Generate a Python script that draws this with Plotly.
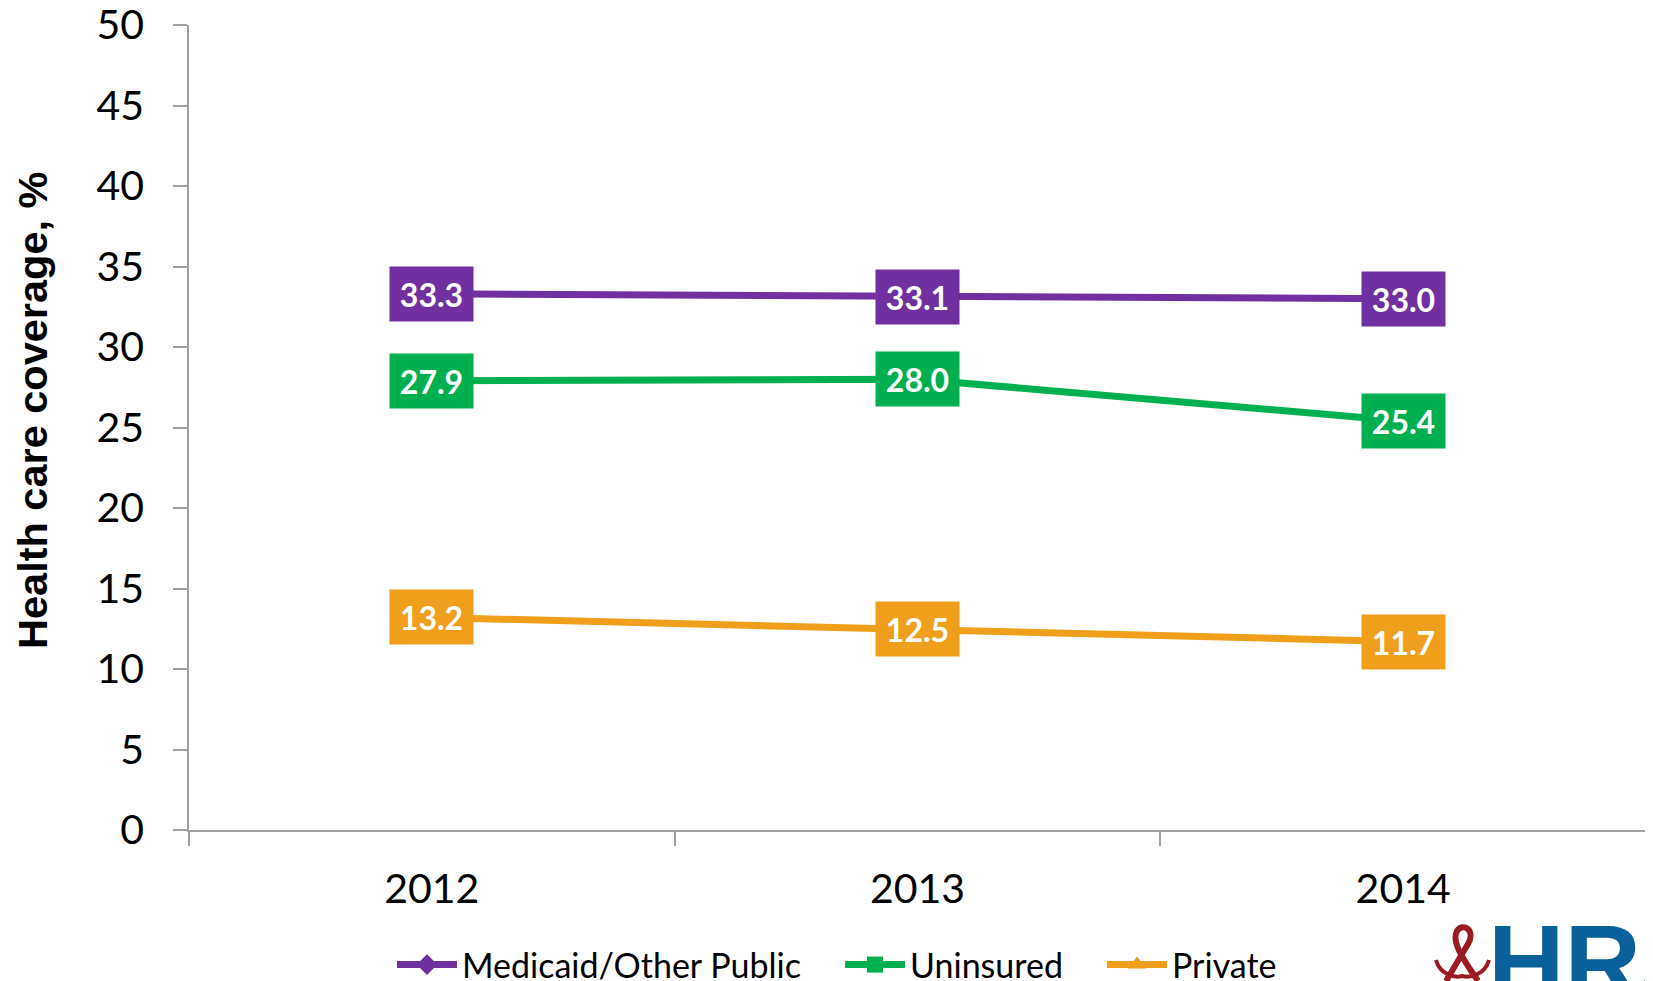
import plotly.graph_objects as go

years = ["2012", "2013", "2014"]
medicaid = [33.3, 33.1, 33.0]
uninsured = [27.9, 28.0, 25.4]
private = [13.2, 12.5, 11.7]

series = [
    ("Medicaid/Other Public", medicaid, "#7030A0", "diamond", "legend"),
    ("Uninsured", uninsured, "#00B050", "square", "legend2"),
    ("Private", private, "#F09F1C", "triangle-up", "legend3"),
]

OFF = 8  # page body margin
W, H = 1653 - OFF, 981 - OFF
# plot area in page pixels: x 189..1646, y 25..830
L, T = 189 - OFF, 25 - OFF
R = W - (1646 - OFF)
B = H - (830 - OFF)
pw, ph = W - L - R, H - T - B

def px_x(p):
    return (p - OFF - L) / pw

def px_y(p):
    return (H - B - (p - OFF)) / ph

fig = go.Figure()
annotations = []
for name, vals, color, sym, leg in series:
    fig.add_trace(go.Scatter(
        x=years, y=vals, name=name, mode="lines+markers",
        line=dict(color=color, width=7),
        marker=dict(symbol=sym, size=20, color=color),
        legend=leg, cliponaxis=False,
    ))
    for i, v in enumerate(vals):
        annotations.append(dict(
            x=i, y=v, xref="x", yref="y", text=f"<b>{v:.1f}</b>",
            showarrow=False, bgcolor=color, width=79, height=50, borderpad=2,
            font=dict(family="Lato", size=32, color="white"),
            xanchor="center", yanchor="middle",
        ))

# y-axis title as rotated annotation
annotations.append(dict(
    x=px_x(32), y=px_y(410), xref="paper", yref="paper",
    text="<b>Health care coverage, %</b>", showarrow=False, textangle=-90,
    xanchor="center", yanchor="middle",
    font=dict(family="Liberation Sans", size=41.5, color="black"),
))

# logo text
annotations.append(dict(
    x=px_x(1486), y=px_y(901), xref="paper", yref="paper",
    text="<b>HRSA</b>", showarrow=False, xanchor="left", yanchor="top",
    font=dict(family="Liberation Sans", size=106, color="#0A6199"),
))

def path_px(cmds):
    out = []
    for c in cmds:
        if isinstance(c, str):
            out.append(c)
        else:
            out.append(f"{px_x(c[0]):.5f},{px_y(c[1]):.5f}")
    return " ".join(out)

ribbon = path_px(["M", (1446, 981), "L", (1468, 944), "C", (1476, 930), (1463, 922),
                  (1457, 931), "C", (1452, 940), (1458, 952), (1478, 981)])
hands = path_px(["M", (1436, 960), "C", (1440, 975), (1455, 978), (1462, 976),
                 "C", (1470, 978), (1485, 975), (1489, 960)])

legend_common = dict(
    orientation="h", yanchor="middle", xanchor="left",
    font=dict(family="Lato", size=34, color="black"),
    bgcolor="rgba(0,0,0,0)", itemwidth=60,
)

fig.update_layout(
    width=W, height=H,
    margin=dict(l=L, r=R, t=T, b=B, autoexpand=False),
    paper_bgcolor="white", plot_bgcolor="white",
    showlegend=True,
    legend=dict(x=px_x(392), y=px_y(965), **legend_common),
    legend2=dict(x=px_x(840), y=px_y(965), **legend_common),
    legend3=dict(x=px_x(1102), y=px_y(965), **legend_common),
    annotations=annotations,
    shapes=[
        dict(type="path", path=ribbon, xref="paper", yref="paper",
             line=dict(color="#9B1B22", width=6)),
        dict(type="path", path=hands, xref="paper", yref="paper",
             line=dict(color="#9B1B22", width=4)),
    ],
    xaxis=dict(
        type="category", range=[-0.5, 2.5], tickson="boundaries",
        ticks="outside", ticklen=14, tickcolor="#A0A0A0", tickwidth=1.5,
        showline=True, linecolor="#A0A0A0", linewidth=1.5, showgrid=False,
        tickfont=dict(family="Lato", size=41, color="black"),
        ticklabelstandoff=22, zeroline=False,
    ),
    yaxis=dict(
        range=[0, 50], dtick=5, tick0=0,
        ticks="outside", ticklen=14, tickcolor="#A0A0A0", tickwidth=1.5,
        showline=True, linecolor="#A0A0A0", linewidth=1.5, showgrid=False,
        zeroline=False, ticklabeloverflow="allow",
        tickfont=dict(family="Lato", size=41, color="black"),
        ticklabelstandoff=21,
    ),
)

fig.write_html("out.html")
